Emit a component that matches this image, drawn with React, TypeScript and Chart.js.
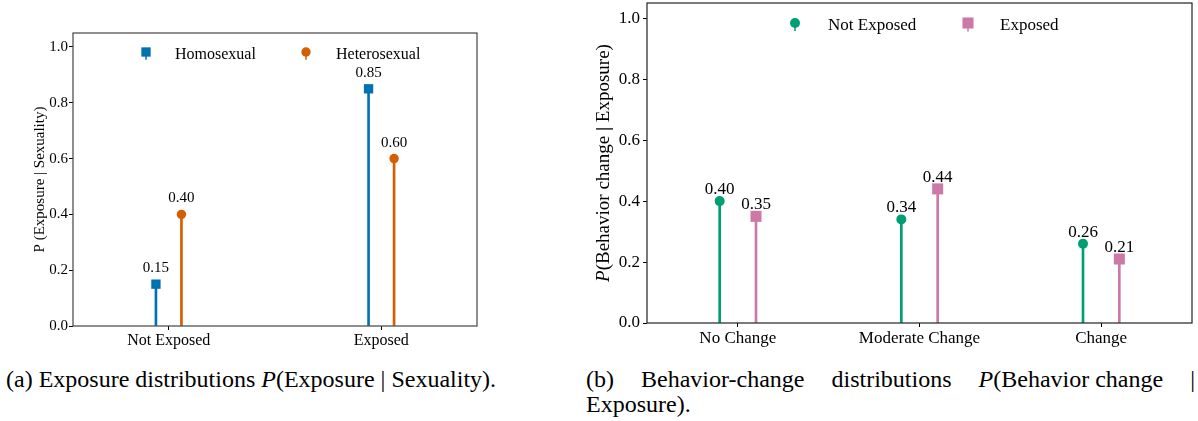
import React, { useEffect, useRef } from 'react';
import { Chart, registerables } from 'chart.js';

Chart.register(...registerables);

// ---------- data ----------
const exposureCategories = ['Not Exposed', 'Exposed'];
const homosexualValues = [0.15, 0.85];
const heterosexualValues = [0.4, 0.6];

const behaviorCategories = ['No Change', 'Moderate Change', 'Change'];
const notExposedValues = [0.4, 0.34, 0.26];
const exposedValues = [0.35, 0.44, 0.21];

const yTickValues = [0, 0.2, 0.4, 0.6, 0.8, 1.0];

// ---------- styles ----------
const SERIF = '"Liberation Serif", "Times New Roman", serif';
const BLUE = '#0072B2';
const ORANGE = '#D55E00';
const GREEN = '#009E73';
const PINK = '#CC79A7';

type TitlePart = { text: string; font: string };

function makePlugins(opts: {
  frameColor: string;
  labelOffset: number;
  labelFont: string;
  legendDy: number;
  legendTextDy: number;
  legendFont: string;
  legendMarkerDx: number[];
  legendTextDx: number[];
  titleX: number;
  titleParts: TitlePart[];
}) {
  const frame = {
    id: 'frameBox',
    afterDatasetsDraw(chart: any) {
      const { ctx, chartArea: a } = chart;
      ctx.save();
      ctx.strokeStyle = opts.frameColor;
      ctx.lineWidth = 1.2;
      ctx.strokeRect(a.left, a.top, a.right - a.left, a.bottom - a.top);
      ctx.restore();
    },
  };
  const valueLabels = {
    id: 'valueLabels',
    afterDatasetsDraw(chart: any) {
      const ctx = chart.ctx;
      ctx.save();
      ctx.font = opts.labelFont;
      ctx.fillStyle = '#000';
      ctx.textAlign = 'center';
      ctx.textBaseline = 'middle';
      chart.data.datasets.forEach((ds: any, i: number) => {
        if (ds.type !== 'scatter') return;
        const meta = chart.getDatasetMeta(i);
        meta.data.forEach((el: any, j: number) => {
          const v = ds.data[j].y as number;
          ctx.fillText(v.toFixed(2), el.x, el.y - opts.labelOffset);
        });
      });
      ctx.restore();
    },
  };
  const legend = {
    id: 'insideLegend',
    afterDraw(chart: any) {
      const { ctx, chartArea: a } = chart;
      const marks = chart.data.datasets.filter((d: any) => d.type === 'scatter');
      ctx.save();
      marks.forEach((d: any, k: number) => {
        const mx = a.left + opts.legendMarkerDx[k];
        const my = a.top + opts.legendDy;
        const color = d.backgroundColor;
        const r = d.pointStyle === 'rect' ? d.pointRadius * Math.SQRT1_2 : d.pointRadius;
        ctx.strokeStyle = color;
        ctx.lineWidth = 1.5;
        ctx.beginPath();
        ctx.moveTo(mx, my);
        ctx.lineTo(mx, my + r + 3);
        ctx.stroke();
        ctx.fillStyle = color;
        if (d.pointStyle === 'rect') {
          ctx.fillRect(mx - r, my - r, 2 * r, 2 * r);
        } else {
          ctx.beginPath();
          ctx.arc(mx, my, r, 0, Math.PI * 2);
          ctx.fill();
        }
        ctx.fillStyle = '#000';
        ctx.font = opts.legendFont;
        ctx.textAlign = 'left';
        ctx.textBaseline = 'middle';
        ctx.fillText(d.label, a.left + opts.legendTextDx[k], a.top + opts.legendTextDy);
      });
      ctx.restore();
    },
  };
  const yTitle = {
    id: 'yTitleCustom',
    afterDraw(chart: any) {
      const { ctx, chartArea: a } = chart;
      const cy = (a.top + a.bottom) / 2;
      ctx.save();
      ctx.translate(opts.titleX, cy);
      ctx.rotate(-Math.PI / 2);
      ctx.fillStyle = '#000';
      ctx.textAlign = 'left';
      ctx.textBaseline = 'middle';
      let total = 0;
      const widths = opts.titleParts.map((p) => {
        ctx.font = p.font;
        const w = ctx.measureText(p.text).width;
        total += w;
        return w;
      });
      let x = -total / 2;
      opts.titleParts.forEach((p, i) => {
        ctx.font = p.font;
        ctx.fillText(p.text, x, 0);
        x += widths[i];
      });
      ctx.restore();
    },
  };
  return [frame, valueLabels, legend, yTitle];
}

function buildConfig(p: {
  categories: string[];
  series: { label: string; values: number[]; color: string; style: string; radius: number; offset: number }[];
  xMin: number;
  xMax: number;
  yAxisWidth: number;
  xAxisHeight: number;
  padding: { top: number; right: number; left: number; bottom: number };
  tickSize: number;
  xTickSize: number;
  xTickPadding: number;
  yTickPadding: number;
  plugins: any[];
}) {
  const datasets: any[] = [];
  p.series.forEach((s) => {
    datasets.push({
      type: 'scatter',
      label: s.label,
      data: s.values.map((v, i) => ({ x: i + s.offset, y: v })),
      backgroundColor: s.color,
      borderColor: s.color,
      borderWidth: 0,
      pointStyle: s.style,
      pointRadius: s.radius,
      order: 0,
    });
  });
  p.series.forEach((s) => {
    datasets.push({
      type: 'bar',
      label: s.label + ' stem',
      data: s.values.map((v, i) => ({ x: i + s.offset, y: v })),
      backgroundColor: s.color,
      barThickness: 2,
      grouped: false,
      order: 1,
    });
  });
  const zeroPad = (scale: any) => {
    scale.paddingTop = 0;
    scale.paddingBottom = 0;
    scale.paddingLeft = 0;
    scale.paddingRight = 0;
  };
  return {
    type: 'scatter',
    data: { datasets },
    options: {
      animation: false,
      responsive: false,
      devicePixelRatio: 1,
      events: [],
      layout: { padding: p.padding, autoPadding: false },
      plugins: { legend: { display: false }, tooltip: { enabled: false } },
      scales: {
        x: {
          type: 'linear',
          min: p.xMin,
          max: p.xMax,
          offset: false,
          border: { display: false },
          grid: {
            display: true,
            offset: false,
            drawOnChartArea: false,
            drawTicks: true,
            tickLength: 4,
            color: '#000',
            lineWidth: 1,
          },
          ticks: {
            autoSkip: false,
            maxRotation: 0,
            minRotation: 0,
            padding: p.xTickPadding,
            color: '#000',
            font: { family: SERIF, size: p.xTickSize },
            callback: (v: number) => p.categories[Math.round(v)] ?? '',
          },
          afterBuildTicks: (scale: any) => {
            scale.ticks = p.categories.map((_, i) => ({ value: i }));
          },
          afterFit: (scale: any) => {
            scale.height = p.xAxisHeight;
            zeroPad(scale);
          },
        },
        y: {
          type: 'linear',
          min: 0,
          max: 1.05,
          border: { display: false },
          grid: {
            display: true,
            offset: false,
            drawOnChartArea: false,
            drawTicks: true,
            tickLength: 4,
            color: '#000',
            lineWidth: 1,
          },
          ticks: {
            padding: p.yTickPadding,
            color: '#000',
            font: { family: SERIF, size: p.tickSize },
            callback: (v: number) => Number(v).toFixed(1),
          },
          afterBuildTicks: (scale: any) => {
            scale.ticks = yTickValues.map((v) => ({ value: v }));
          },
          afterFit: (scale: any) => {
            scale.width = p.yAxisWidth;
            zeroPad(scale);
          },
        },
      },
    },
    plugins: p.plugins,
  } as any;
}

function ChartCanvas({ config, left, top, width, height }: any) {
  const ref = useRef<HTMLCanvasElement | null>(null);
  useEffect(() => {
    if (!ref.current) return;
    const chart = new Chart(ref.current, config);
    return () => chart.destroy();
  }, []);
  return (
    <canvas
      ref={ref}
      width={width}
      height={height}
      style={{ position: 'absolute', left, top, width, height }}
    />
  );
}

export default function App() {
  const leftConfig = buildConfig({
    categories: exposureCategories,
    series: [
      { label: 'Homosexual', values: homosexualValues, color: BLUE, style: 'rect', radius: 6.6, offset: -0.06 },
      { label: 'Heterosexual', values: heterosexualValues, color: ORANGE, style: 'circle', radius: 4.7, offset: 0.06 },
    ],
    xMin: -0.45,
    xMax: 1.45,
    yAxisWidth: 73,
    xAxisHeight: 34,
    padding: { top: 33, right: 23, left: 0, bottom: 0 },
    tickSize: 15,
    xTickSize: 16,
    xTickPadding: 1,
    yTickPadding: 1,
    plugins: makePlugins({
      frameColor: '#444',
      labelOffset: 16,
      labelFont: `15px ${SERIF}`,
      legendDy: 19,
      legendTextDy: 22,
      legendFont: `16px ${SERIF}`,
      legendMarkerDx: [73, 233],
      legendTextDx: [102, 263],
      titleX: 40,
      titleParts: [{ text: 'P (Exposure | Sexuality)', font: `15px ${SERIF}` }],
    }),
  });

  const rightConfig = buildConfig({
    categories: behaviorCategories,
    series: [
      { label: 'Not Exposed', values: notExposedValues, color: GREEN, style: 'circle', radius: 5, offset: -0.1 },
      { label: 'Exposed', values: exposedValues, color: PINK, style: 'rect', radius: 7.8, offset: 0.1 },
    ],
    xMin: -0.5,
    xMax: 2.5,
    yAxisWidth: 67,
    xAxisHeight: 37,
    padding: { top: 3, right: 6, left: 0, bottom: 0 },
    tickSize: 17,
    xTickSize: 17,
    xTickPadding: 1,
    yTickPadding: 3,
    plugins: makePlugins({
      frameColor: '#222',
      labelOffset: 11.5,
      labelFont: `17px ${SERIF}`,
      legendDy: 20,
      legendTextDy: 23,
      legendFont: `17px ${SERIF}`,
      legendMarkerDx: [148, 321],
      legendTextDx: [181, 353],
      titleX: 24,
      titleParts: [
        { text: 'P', font: `italic 19px ${SERIF}` },
        { text: '(Behavior change ', font: `19px ${SERIF}` },
        { text: '|', font: `bold 19px ${SERIF}` },
        { text: ' Exposure)', font: `19px ${SERIF}` },
      ],
    }),
  });

  const captionStyle: React.CSSProperties = {
    position: 'absolute',
    fontFamily: SERIF,
    fontSize: 24,
    lineHeight: '25px',
    color: '#000',
  };

  return (
    <div
      style={{
        position: 'absolute',
        left: 0,
        top: 0,
        width: 1198,
        height: 421,
        overflow: 'hidden',
        background: '#fff',
      }}
    >
      <ChartCanvas config={leftConfig} left={0} top={0} width={500} height={360} />
      <ChartCanvas config={rightConfig} left={580} top={0} width={618} height={360} />
      <div style={{ ...captionStyle, left: 6, top: 367, whiteSpace: 'nowrap' }}>
        (a) Exposure distributions <i>P</i>(Exposure | Sexuality).
      </div>
      <div style={{ ...captionStyle, left: 586, top: 367, width: 609, textAlign: 'justify' }}>
        (b) Behavior-change distributions{' '}
        <span style={{ display: 'inline-block' }}>
          <i>P</i>(Behavior change
        </span>{' '}
        | Exposure).
      </div>
    </div>
  );
}
